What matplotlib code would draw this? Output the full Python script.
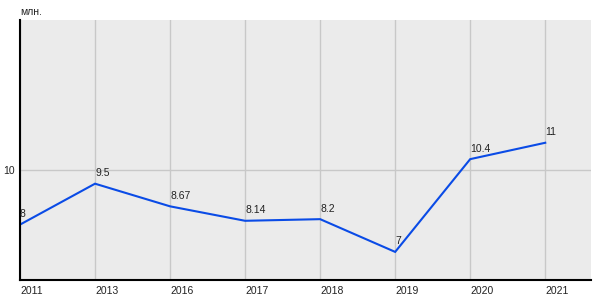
import matplotlib
matplotlib.use("Agg")
import matplotlib.pyplot as plt

years = ["2011", "2013", "2016", "2017", "2018", "2019", "2020", "2021"]
values = [8, 9.5, 8.67, 8.14, 8.2, 7, 10.4, 11]
labels = ["8", "9.5", "8.67", "8.14", "8.2", "7", "10.4", "11"]
unit = "млн."

plt.rcParams['font.family'] = ['Liberation Sans', 'DejaVu Sans']
fig = plt.figure(figsize=(6, 3), dpi=100)
ax = fig.add_axes([20/600, 20/300, 571/600, 260/300])
ax.set_facecolor('#EBEBEB')
x = list(range(len(years)))
ax.plot(x, values, color='#0a4be6', lw=1.5, solid_joinstyle='miter')
for xi, v, t in zip(x, values, labels):
    ax.annotate(t, (xi, v), xytext=(0, 4), textcoords='offset points',
                ha='left', va='bottom', fontsize=7.5, color='#222222')
ax.set_xlim(0, 7.61)
ax.set_ylim(5.97, 15.5)
ax.set_xticks(x)
ax.set_xticklabels(years, ha='left', fontsize=7.5, color='#222222')
ax.set_yticks([10])
ax.set_yticklabels(["10"], fontsize=7.5, color='#222222')
ax.tick_params(length=0, pad=4)
ax.tick_params(axis='y', pad=4)
ax.grid(True, color='#C8C8C8', lw=1)
ax.set_axisbelow(True)
for s in ['top', 'right']:
    ax.spines[s].set_visible(False)
for s in ['left', 'bottom']:
    ax.spines[s].set_color('black')
    ax.spines[s].set_linewidth(1.5)
fig.text(20/600, 1 - 12/300, unit, fontsize=7.5, ha='left', va='center', color='#222222')
fig.savefig("out.png", dpi=100)
